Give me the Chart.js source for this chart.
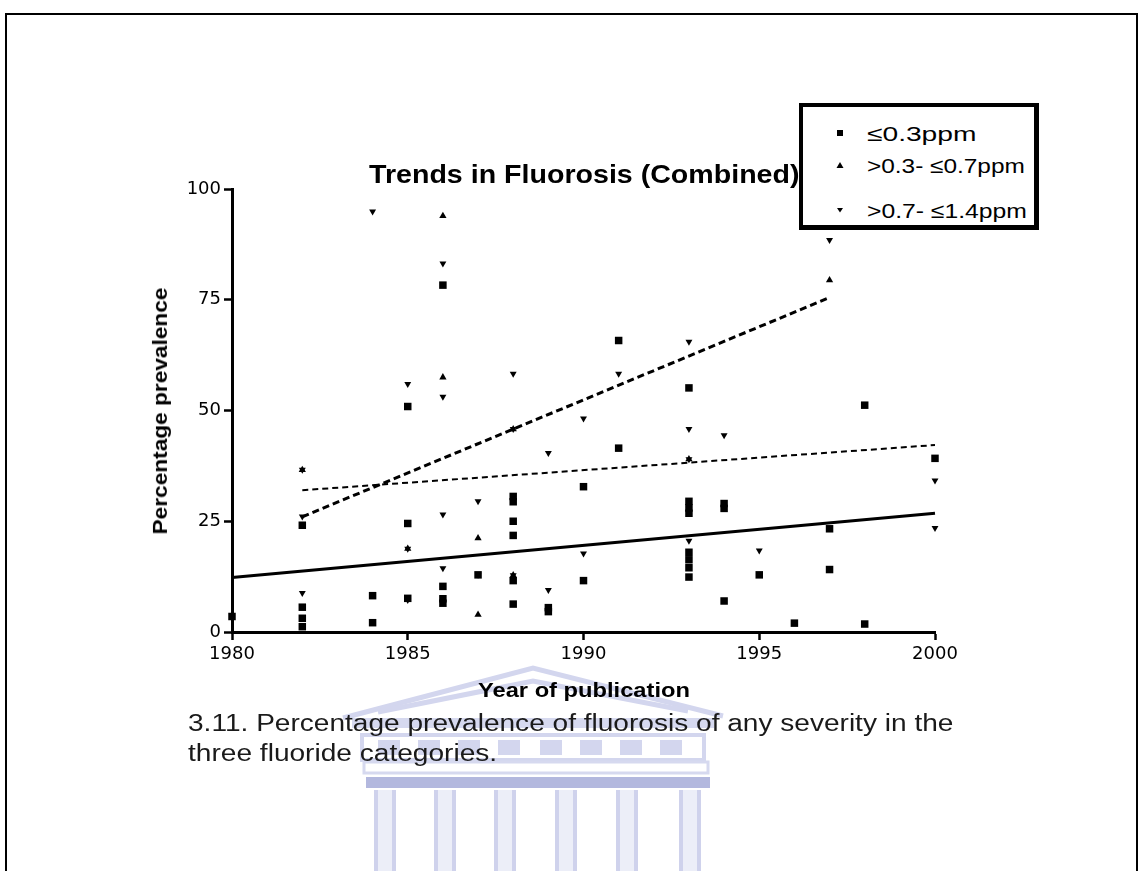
<!DOCTYPE html>
<html>
<head>
<meta charset="utf-8">
<script src="https://cdn.jsdelivr.net/npm/chart.js@4/dist/chart.umd.min.js"></script>
<style>
  html, body { margin: 0; padding: 0; background: #fff; overflow: hidden; }
  body { width: 1147px; height: 871px; position: relative; }
  #frame { position: absolute; left: 5px; top: 13px; width: 1133px; height: 900px;
           border: 2px solid #000; box-sizing: border-box; }
  #mark { position: absolute; left: 0; top: 0; }
  #plot { position: absolute; left: 0; top: 0; }
  .txt { position: absolute; white-space: nowrap; font-family: "Liberation Sans", Arial, sans-serif;
         color: #000; line-height: 1; }
  #legend { position: absolute; left: 799px; top: 103px; width: 240px; height: 127px;
            box-sizing: border-box; background: #fff;
            border-style: solid; border-color: #000; border-width: 4px 5px 5px 4px; }
</style>
</head>
<body>
<div id="frame"></div>

<!-- faded crest behind the figure -->
<svg id="mark" width="1147" height="871" viewBox="0 0 1147 871">
  <g fill="none" stroke="#d3d6ee" stroke-width="5">
    <polyline points="343,718 533,668 723,716"/>
    <polyline points="378,712 533,681 688,711"/>
  </g>
  <rect x="352" y="718" width="362" height="10" fill="#d6d9ef"/>
  <rect x="362" y="735" width="342" height="25" fill="none" stroke="#d3d6ee" stroke-width="4"/>
  <g fill="#d3d6ee">
    <rect x="378" y="740" width="22" height="15"/><rect x="418" y="740" width="22" height="15"/>
    <rect x="458" y="740" width="22" height="15"/><rect x="498" y="740" width="22" height="15"/>
    <rect x="540" y="740" width="22" height="15"/><rect x="580" y="740" width="22" height="15"/>
    <rect x="620" y="740" width="22" height="15"/><rect x="660" y="740" width="22" height="15"/>
  </g>
  <rect x="364" y="762" width="344" height="11" fill="none" stroke="#d6d9ef" stroke-width="3"/>
  <rect x="366" y="777" width="344" height="11" fill="#b3b8de"/>
  <g fill="#eceef8">
    <rect x="376" y="790" width="18" height="81"/><rect x="436" y="790" width="18" height="81"/>
    <rect x="496" y="790" width="18" height="81"/><rect x="557" y="790" width="18" height="81"/>
    <rect x="618" y="790" width="18" height="81"/><rect x="681" y="790" width="18" height="81"/>
  </g>
  <g stroke="#cfd2ec" stroke-width="4">
    <line x1="376" y1="790" x2="376" y2="871"/><line x1="394" y1="790" x2="394" y2="871"/>
    <line x1="436" y1="790" x2="436" y2="871"/><line x1="454" y1="790" x2="454" y2="871"/>
    <line x1="496" y1="790" x2="496" y2="871"/><line x1="514" y1="790" x2="514" y2="871"/>
    <line x1="557" y1="790" x2="557" y2="871"/><line x1="575" y1="790" x2="575" y2="871"/>
    <line x1="618" y1="790" x2="618" y2="871"/><line x1="636" y1="790" x2="636" y2="871"/>
    <line x1="681" y1="790" x2="681" y2="871"/><line x1="699" y1="790" x2="699" y2="871"/>
  </g>
</svg>

<canvas id="plot" width="1147" height="871"></canvas>

<div id="legend"></div>

<script>
// ---- data -------------------------------------------------------------
const xTicks = [1980, 1985, 1990, 1995, 2000];
const yTicks = [0, 25, 50, 75, 100];

const seriesNames = ['\u22640.3ppm', '>0.3- \u22640.7ppm', '>0.7- \u22641.4ppm'];

// <=0.3 ppm (squares)
const lowYears  = [1980, 1982, 1982, 1982, 1982, 1984, 1984, 1985, 1985, 1985,
                   1986, 1986, 1986, 1986, 1987, 1988, 1988, 1988, 1988, 1988,
                   1988, 1989, 1989, 1990, 1990, 1991, 1991, 1993, 1993, 1993,
                   1993, 1993, 1993, 1993, 1993, 1994, 1994, 1994, 1995, 1996,
                   1997, 1997, 1998, 1998, 2000];
const lowValues = [3.5, 24.1, 5.6, 3.1, 1.2, 8.2, 2.1, 50.9, 24.5, 7.6,
                   78.3, 10.3, 7.5, 6.5, 12.9, 30.6, 29.4, 25.0, 21.8, 11.6,
                   6.3, 5.5, 4.6, 32.8, 11.6, 65.8, 41.5, 55.1, 29.5, 28.0,
                   26.8, 18.0, 16.3, 14.5, 12.4, 29.0, 27.9, 7.0, 12.9, 2.0,
                   23.3, 14.1, 51.2, 1.8, 39.2];

// >0.3 - <=0.7 ppm (upward triangles)
const midYears  = [1982, 1985, 1986, 1986, 1987, 1987, 1988, 1988, 1993, 1997];
const midValues = [36.6, 18.8, 93.9, 57.5, 21.2, 3.9, 45.8, 12.8, 39.0, 79.4];

// >0.7 - <=1.4 ppm (downward triangles)
const highYears  = [1982, 1982, 1982, 1984, 1985, 1985, 1985, 1986, 1986, 1986,
                    1986, 1986, 1987, 1987, 1988, 1988, 1988, 1989, 1989, 1990,
                    1990, 1991, 1993, 1993, 1993, 1993, 1994, 1995, 1997, 2000,
                    2000];
const highValues = [36.6, 26.1, 8.8, 94.9, 56.0, 18.8, 7.2, 83.2, 53.1, 26.5,
                    14.4, 6.7, 29.5, 12.9, 58.3, 45.8, 12.8, 40.4, 9.5, 48.2,
                    17.7, 58.3, 65.5, 45.8, 39.0, 20.6, 44.4, 18.4, 88.5, 34.2,
                    23.5];

// fitted trend lines: [start year, end year] and [start value, end value]
const lowTrendYears  = [1980, 2000];
const lowTrendValues = [12.3, 26.8];
const midTrendYears  = [1982, 1997];
const midTrendValues = [26.0, 75.5];
const highTrendYears  = [1982, 2000];
const highTrendValues = [32.0, 42.2];

// ---- helpers ----------------------------------------------------------
const zip = (xs, ys) => xs.map((x, i) => ({ x: x, y: ys[i] }));

function addText(str, o) {
  const el = document.createElement('span');
  el.className = 'txt';
  el.textContent = str;
  el.style.fontSize = o.size + 'px';
  el.style.fontWeight = o.bold ? 'bold' : 'normal';
  if (o.color) el.style.color = o.color;
  (o.parent || document.body).appendChild(el);
  const natW = el.offsetWidth, natH = el.offsetHeight;
  const s = o.width ? o.width / natW : 1;
  if (o.rotate) {
    el.style.left = (o.cx - natW / 2) + 'px';
    el.style.top = (o.cy - natH / 2) + 'px';
    el.style.transformOrigin = 'center center';
    el.style.transform = 'rotate(-90deg) scaleX(' + s + ')';
  } else {
    const w = natW * s;
    const left = (o.cx !== undefined) ? o.cx - w / 2 : o.x;
    el.style.left = left + 'px';
    el.style.top = (o.cy - natH / 2) + 'px';
    el.style.transformOrigin = 'left center';
    el.style.transform = 'scaleX(' + s + ')';
  }
  return el;
}

// ---- chart ------------------------------------------------------------
const BLACK = '#000';
const tickFont = { family: 'DejaVu Sans', size: 18 };

function markerSet(label, data, style, radius, rotation) {
  return {
    type: 'scatter', label: label, data: data,
    pointStyle: style, pointRadius: radius, pointRotation: rotation || 0,
    pointBackgroundColor: BLACK, pointBorderColor: BLACK, pointBorderWidth: 0,
    showLine: false, clip: false
  };
}
function trendSet(data, width, dash) {
  return {
    type: 'line', data: data, borderColor: BLACK, borderWidth: width,
    borderDash: dash, pointRadius: 0, fill: false, tension: 0, clip: false
  };
}

new Chart(document.getElementById('plot'), {
  type: 'scatter',
  data: {
    datasets: [
      markerSet(seriesNames[0], zip(lowYears, lowValues), 'rect', 5.3),
      markerSet(seriesNames[1], zip(midYears, midValues), 'triangle', 4.2),
      markerSet(seriesNames[2], zip(highYears, highValues), 'triangle', 4, 180),
      trendSet(zip(lowTrendYears, lowTrendValues), 3.2, []),
      trendSet(zip(midTrendYears, midTrendValues), 3, [7, 4]),
      trendSet(zip(highTrendYears, highTrendValues), 2, [6, 4])
    ]
  },
  options: {
    responsive: false, animation: false, devicePixelRatio: 1,
    layout: { padding: { left: 0, right: 212, top: 189, bottom: 179 } },
    plugins: { legend: { display: false }, title: { display: false }, tooltip: { enabled: false } },
    scales: {
      x: {
        type: 'linear', min: xTicks[0], max: xTicks[xTicks.length - 1],
        afterBuildTicks: s => { s.ticks = xTicks.map(v => ({ value: v })); },
        ticks: { color: BLACK, font: tickFont, padding: 4, maxRotation: 0,
                 callback: v => String(v) },
        grid: { drawOnChartArea: false, drawTicks: true, tickLength: 8,
                tickWidth: 2.5, tickColor: BLACK },
        border: { display: true, color: BLACK, width: 3 },
        afterFit: s => { s.height = 60; }
      },
      y: {
        type: 'linear', min: yTicks[0], max: yTicks[yTicks.length - 1],
        afterBuildTicks: s => { s.ticks = yTicks.map(v => ({ value: v })); },
        ticks: { color: BLACK, font: tickFont, padding: 3, callback: v => String(v) },
        grid: { drawOnChartArea: false, drawTicks: true, tickLength: 8,
                tickWidth: 2.5, tickColor: BLACK },
        border: { display: true, color: BLACK, width: 3 },
        afterFit: s => { s.width = 232; }
      }
    }
  }
});

// ---- titles, legend and caption ---------------------------------------
addText('Trends in Fluorosis (Combined)', { cx: 584, cy: 174, size: 26, bold: true, width: 430 });
addText('Percentage prevalence', { cx: 160, cy: 411, size: 20, bold: true, width: 247, rotate: true });
addText('Year of publication', { cx: 584, cy: 690, size: 20, bold: true, width: 212 });
addText('3.11. Percentage prevalence of fluorosis of any severity in the',
        { x: 188, cy: 723, size: 23, width: 765, color: '#1a1a1a' });
addText('three fluoride categories.', { x: 188, cy: 753, size: 23, width: 309, color: '#1a1a1a' });

const legend = document.getElementById('legend');
const legendMarks = [
  '<rect x="2" y="2" width="6" height="6" fill="#000"/>',
  '<polygon points="5,2 8.5,8 1.5,8" fill="#000"/>',
  '<polygon points="2,3 8,3 5,7.5" fill="#000"/>'
];
const legendRowsY = [26, 58, 103];
const legendWidths = [110, 158, 160];
seriesNames.forEach((name, i) => {
  const m = document.createElement('div');
  m.innerHTML = '<svg width="10" height="10" viewBox="0 0 10 10">' + legendMarks[i] + '</svg>';
  m.style.cssText = 'position:absolute;left:32px;top:' + (legendRowsY[i] - 5) + 'px;line-height:0';
  legend.appendChild(m);
  addText(name, { x: 64, cy: legendRowsY[i], size: 21, width: legendWidths[i], parent: legend });
});
</script>
</body>
</html>
